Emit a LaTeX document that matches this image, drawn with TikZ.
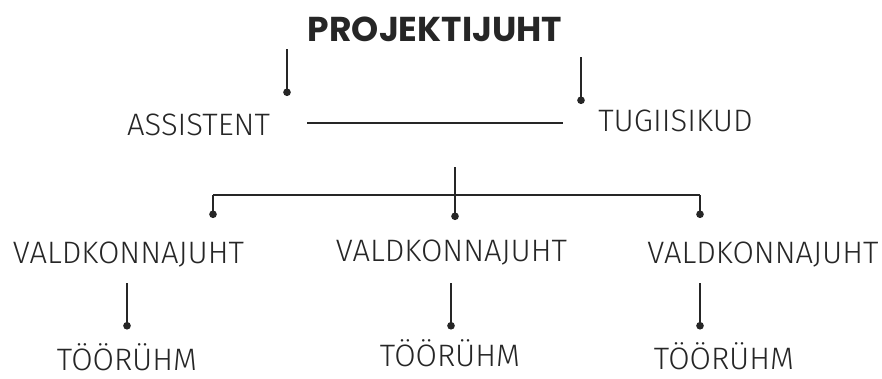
\documentclass[tikz,border=0pt]{standalone}
\usepackage{fontspec}
\setmainfont{Fira Sans Light}
\newfontfamily\titlefont{Poppins}
\usetikzlibrary{positioning}
\usetikzlibrary{arrows.meta}

\begin{document}
\begin{tikzpicture}[x=1pt,y=-1pt,
    role/.style = {inner sep=0pt, anchor=base, text=black!85, font=\fontsize{31}{31}\selectfont},
    boss/.style = {inner sep=0pt, anchor=base, text=black!85, font=\titlefont\bfseries\fontsize{34.5}{34.5}\selectfont},
    stem/.style = {draw=black!85, line width=1.8pt, -{Circle[length=7.5pt]}},
    link/.style = {draw=black!85, line width=1.6pt}]
        \useasboundingbox (0,0) rectangle (882,378);
        % top
        \node[boss] (pj) at (435,41) {PROJEKTIJUHT};
        \node[role] (as) at (198.5,135) {ASSISTENT};
        \node[role] (tu) at (675.5,131) {TUGIISIKUD};
        \coordinate (pjl) at (287,49);
        \coordinate (asd) at (287,96);
        \coordinate (pjr) at (581,57);
        \coordinate (tud) at (581,104);
        \draw[stem] (pjl) -- (asd);
        \draw[stem] (pjr) -- (tud);
        \coordinate (ll) at (307,123);
        \coordinate (lr) at (563,123);
        \draw[link] (ll) -- (lr);
        % middle
        \node[role] (v1) at (128.5,263) {VALDKONNAJUHT};
        \node[role] (v2) at (451.5,261) {VALDKONNAJUHT};
        \node[role] (v3) at (763,263) {VALDKONNAJUHT};
        \coordinate (top) at (455,167);
        \coordinate (bl) at (213,195);
        \coordinate (br) at (700,195);
        \coordinate (d1) at (213,218);
        \coordinate (d2) at (455,220);
        \coordinate (d3) at (700,218);
        \draw[link] (bl) -- (br);
        \draw[stem] (top) -- (d2);
        \draw[stem] (bl) -- (d1);
        \draw[stem] (br) -- (d3);
        % bottom
        \node[role] (t1) at (127,370) {TÖÖRÜHM};
        \node[role] (t2) at (450,366.5) {TÖÖRÜHM};
        \node[role] (t3) at (724,369) {TÖÖRÜHM};
        \foreach \x/\i in {127/1,451/2,700/3} {
          \coordinate (s\i) at (\x,283);
          \coordinate (e\i) at (\x,329.5);
          \draw[stem] (s\i) -- (e\i);
        }
\end{tikzpicture}
\end{document}
